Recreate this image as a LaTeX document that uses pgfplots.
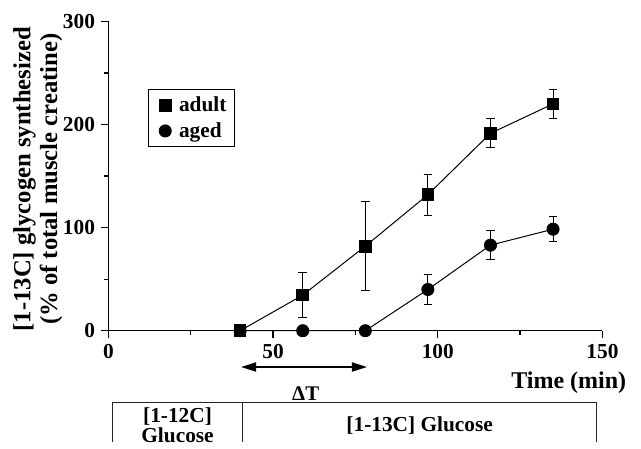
\documentclass[border=0pt]{standalone}
\usepackage{fontspec}
\setmainfont{Liberation Serif}
\usepackage{pgfplots}
\pgfplotsset{compat=1.18}
\usetikzlibrary{arrows.meta}
\pgfplotsset{markleg/.style={legend image code/.code={%
  \path[draw=none, fill=none] (-0.05cm,-0.1cm) rectangle (0.42cm,0.1cm);
  \draw[##1] plot coordinates {(0.2cm,0cm)};}}}

\begin{document}
\begin{tikzpicture}[font=\fontsize{12.5}{15}\selectfont\bfseries]
\begin{axis}[
  scale only axis,
  width=296.5pt, height=185.6pt,
  xmin=0, xmax=150, ymin=0, ymax=300,
  axis lines=left,
  axis line style={-, line width=0.9pt},
  xtick={0,50,100,150}, ytick={0,100,200,300},
  minor xtick={25,75,125}, minor ytick={50,150,250},
  tick align=outside,
  major tick length=4.5pt, minor tick length=2.5pt,
  every tick/.style={black, line width=0.8pt},
  tick label style={font=\fontsize{12.8}{15}\selectfont\bfseries},
  /pgf/number format/assume math mode=true,
  clip=false,
  xlabel={Time (min)},
  xlabel style={at={(axis cs:159,-50.7)}, anchor=east, font=\fontsize{14.4}{16}\selectfont\bfseries},
  ylabel={[1-13C] glycogen synthesized\\(\% of total muscle creatine)},
  ylabel style={at={(axis cs:-21.4,147)}, anchor=center, align=center, font=\fontsize{14.8}{16}\selectfont\bfseries},
  legend style={at={(axis cs:12,234)}, anchor=north west, draw=black, line width=0.6pt,
    font=\fontsize{12.8}{15}\selectfont\bfseries, cells={anchor=west}, row sep=1pt,
    inner xsep=3pt},
]
\addlegendimage{only marks, black, mark=square*, mark size=3.5pt, markleg}
\addlegendentry{adult}
\addlegendimage{only marks, black, mark=*, mark size=3.6pt, markleg}
\addlegendentry{aged}

% aged
\addplot[black, line width=0.6pt, mark=*, mark size=3.6pt,
  error bars/.cd, y dir=both, y explicit,
  error bar style={line width=0.6pt},
  error mark options={rotate=90, mark size=2.6pt, line width=0.6pt}]
  coordinates {(40,0) (59,0) (78,0) (97,40) +- (0,15) (116,83) +- (0,14) (135,98.5) +- (0,12)};

% adult
\addplot[black, line width=0.6pt, mark=square*, mark size=3.5pt,
  error bars/.cd, y dir=both, y explicit,
  error bar style={line width=0.6pt},
  error mark options={rotate=90, mark size=2.6pt, line width=0.6pt}]
  coordinates {(40,0) (59,34.5) +- (0,21.5) (78,82) +- (0,43) (97,132) +- (0,20) (116,191.5) +- (0,14) (135,220) +- (0,14)};

% delta T arrow
\draw[line width=0.9pt, {Triangle[length=9pt,width=5.5pt]}-{Triangle[length=9pt,width=5.5pt]}]
  (axis cs:40.3,-35.2) -- (axis cs:78.5,-35.2);
\node at (axis cs:59.9,-61.4) {ΔT};

% infusion table
\draw[line width=0.6pt, black!85] (axis cs:1.2,-108) -- (axis cs:1.2,-69.2) -- (axis cs:148.3,-69.2) -- (axis cs:148.3,-108);
\draw[line width=0.6pt, black!85] (axis cs:40.8,-69.2) -- (axis cs:40.8,-108);
\node[align=center, font=\fontsize{12.8}{12}\selectfont\bfseries] at (axis cs:21,-91.5) {[1-12C]\\Glucose};
\node[font=\fontsize{12.8}{15}\selectfont\bfseries] at (axis cs:94.5,-91.5) {[1-13C] Glucose};

\path (axis cs:-32.9,320.8) rectangle (axis cs:161.7,-108);
\end{axis}
\end{tikzpicture}
\end{document}
